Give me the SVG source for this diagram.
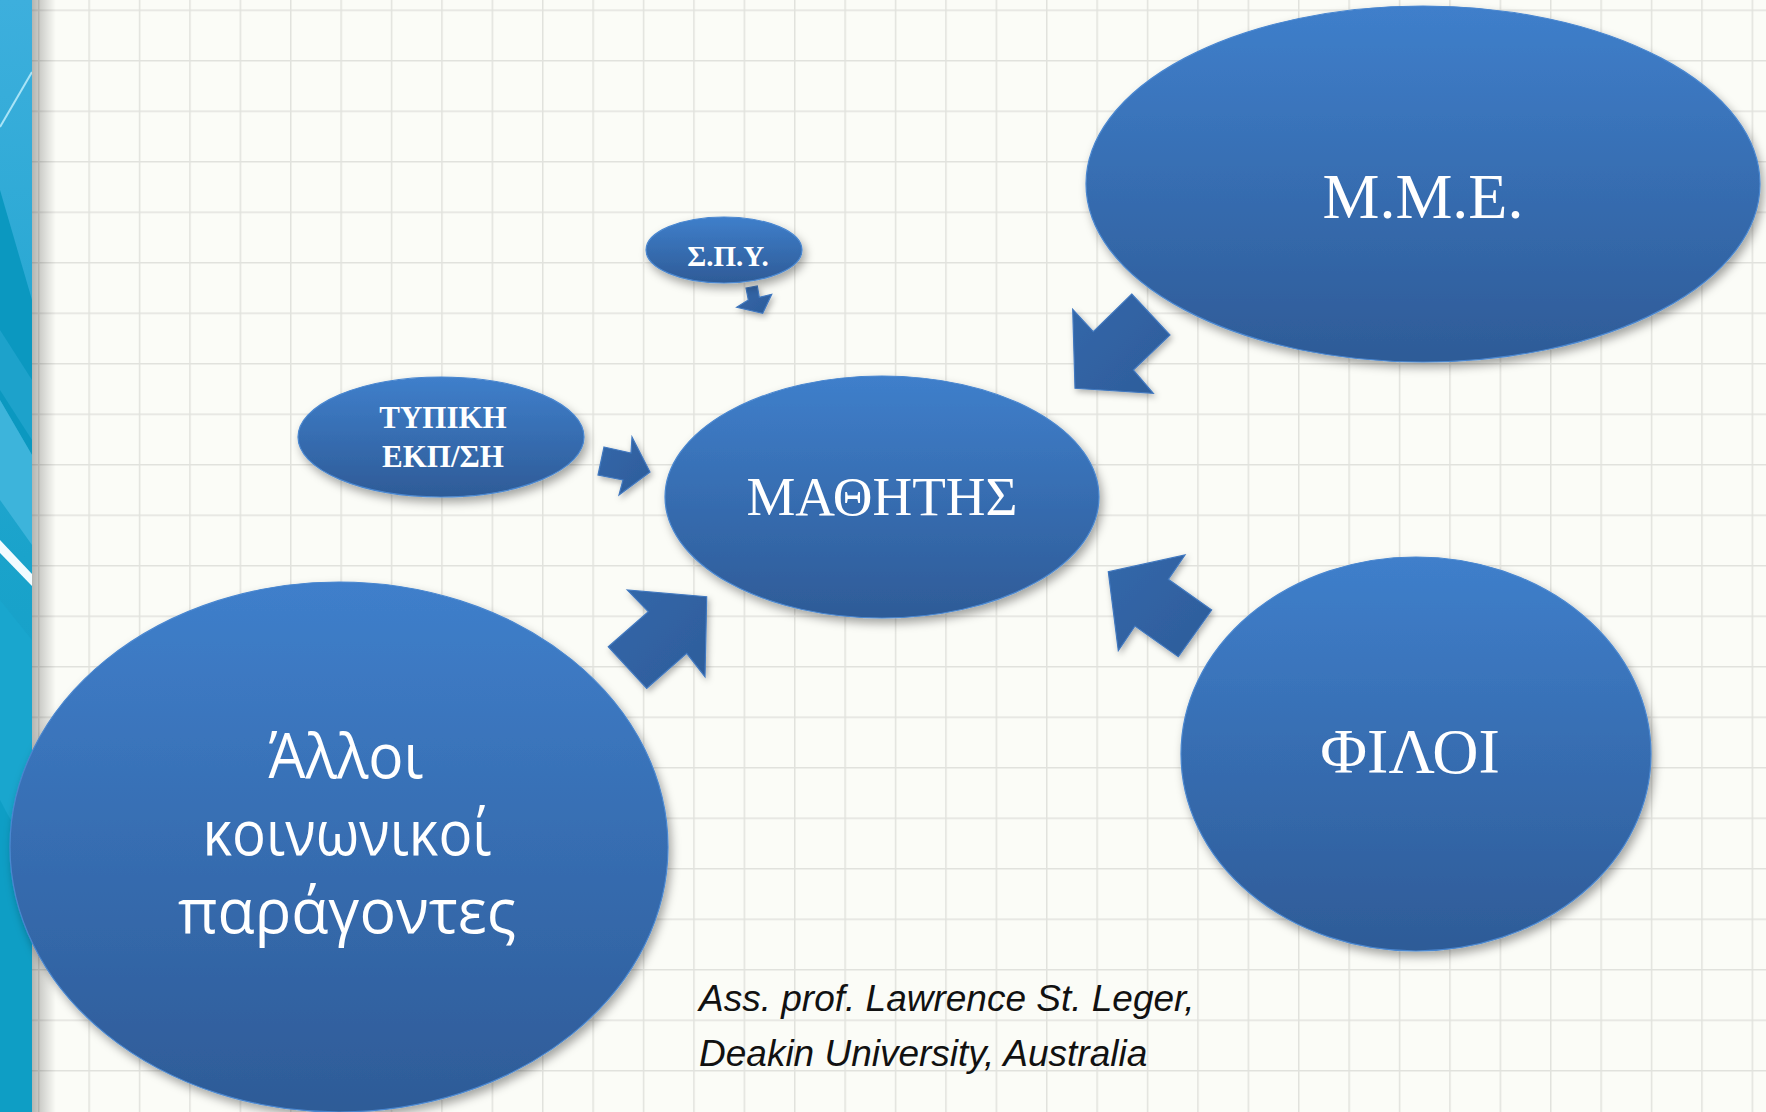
<svg xmlns="http://www.w3.org/2000/svg" width="1766" height="1112" viewBox="0 0 1766 1112">
<defs>
  <pattern id="grid" x="38" y="9.5" width="50.4" height="50.5" patternUnits="userSpaceOnUse">
    <path d="M0.75 0 V50.5 M0 0.75 H50.4" stroke="#E1E2DD" stroke-width="1.5" fill="none"/>
  </pattern>
  <linearGradient id="blue" x1="0" y1="0" x2="0" y2="1">
    <stop offset="0" stop-color="#3F7FCB"/>
    <stop offset="1" stop-color="#2E5B97"/>
  </linearGradient>
  <linearGradient id="arrowFill" x1="0" y1="0" x2="1" y2="1">
    <stop offset="0" stop-color="#3468AA"/>
    <stop offset="1" stop-color="#2D5C9A"/>
  </linearGradient>
  <linearGradient id="strip" x1="0" y1="0" x2="0" y2="1">
    <stop offset="0" stop-color="#3DAFDD"/>
    <stop offset="0.5" stop-color="#1AA3CB"/>
    <stop offset="1" stop-color="#089AC1"/>
  </linearGradient>
  <linearGradient id="stripShadow" x1="0" y1="0" x2="1" y2="0">
    <stop offset="0" stop-color="#000" stop-opacity="0.28"/>
    <stop offset="1" stop-color="#000" stop-opacity="0"/>
  </linearGradient>
  <clipPath id="stripClip"><rect x="0" y="0" width="32" height="1112"/></clipPath>
  <filter id="sh" x="-10%" y="-10%" width="130%" height="130%">
    <feDropShadow dx="3" dy="5" stdDeviation="5" flood-color="#000" flood-opacity="0.35"/>
  </filter>
  <filter id="ash" x="-20%" y="-20%" width="150%" height="150%">
    <feDropShadow dx="2" dy="3" stdDeviation="3" flood-color="#000" flood-opacity="0.3"/>
  </filter>
  <style>
    .node { fill: url(#blue); stroke: #4A87D0; stroke-width: 1.2; filter: url(#sh); }
    .arrow { fill: url(#arrowFill); stroke: #4178BF; stroke-width: 1.2; filter: url(#ash); }
    .serif { font-family: "Liberation Serif", "DejaVu Serif", serif; fill: #FFFFFF; text-anchor: middle; }
    .sans { font-family: "Open Sans", "Noto Sans", "DejaVu Sans", sans-serif; fill: #FFFFFF; text-anchor: middle; }
    .author { font-family: "Liberation Sans", Arial, sans-serif; font-style: italic; fill: #111111; font-size: 37px; }
  </style>
</defs>

<!-- background -->
<rect x="0" y="0" width="1766" height="1112" fill="#FBFCF7"/>
<rect x="32" y="0" width="1734" height="1112" fill="url(#grid)"/>

<!-- left decorative strip -->
<g id="strip">
  <rect x="0" y="0" width="32" height="1112" fill="url(#strip)"/>
  <g clip-path="url(#stripClip)">
    <polygon points="0,190 32,300 32,455 0,400" fill="#0B98C0"/>
    <polygon points="0,400 32,455 32,545 0,500" fill="#3DB4DB"/>
    <polygon points="0,330 32,380 32,440 0,390" fill="#2AA8D2" opacity="0.6"/>
    <polygon points="0,540 32,574 32,586 0,553" fill="#F2FBFF"/>
    <line x1="32" y1="72" x2="0" y2="127" stroke="#A9E4F7" stroke-width="2"/>
    <polygon points="0,600 32,640 32,1112 0,1112" fill="#19A6CE"/>
    <polygon points="0,800 32,860 32,1112 0,1112" fill="#0A9BC2" opacity="0.7"/>
  </g>
  <rect x="32" y="0" width="24" height="1112" fill="url(#stripShadow)"/>
</g>

<!-- connectors (block arrows) -->
<g id="connectors">
  <polygon class="arrow" points="604,447 631,453 632,437 650,472 619,495 623,480 598,475"/>
  <polygon class="arrow" points="746,288 757.3,286 759.3,297.3 771.7,294.3 762.7,313.3 736.7,307.3 748.3,300"/>
  <polygon class="arrow" points="1131.7,294 1170,335 1133.3,370 1153.3,393.3 1075,388.3 1072.7,309.3 1093.3,331.7"/>
  <polygon class="arrow" points="608.3,646.7 648.3,611.7 627.3,590 706.7,596.7 705,676.7 686.7,653.3 646.7,688.3"/>
  <polygon class="arrow" points="1211.7,610 1168.3,579.3 1185,555 1108.3,571.7 1118.3,650.7 1135,626 1178.3,656.7"/>
</g>

<!-- nodes -->
<g id="node-mme">
  <ellipse class="node" cx="1423" cy="184" rx="337" ry="178"/>
  <text class="serif" x="1423" y="218" font-size="64">M.M.E.</text>
</g>
<g id="node-spy">
  <ellipse class="node" cx="724" cy="250" rx="78" ry="33"/>
  <text class="serif" x="728" y="266" font-size="29" font-weight="bold">Σ.Π.Υ.</text>
</g>
<g id="node-typiki">
  <ellipse class="node" cx="441" cy="437" rx="143" ry="60"/>
  <text class="serif" x="443" y="428" font-size="31" font-weight="bold">ΤΥΠΙΚΗ</text>
  <text class="serif" x="443" y="467" font-size="31" font-weight="bold">ΕΚΠ/ΣΗ</text>
</g>
<g id="node-mathitis">
  <ellipse class="node" cx="882" cy="497" rx="217" ry="121"/>
  <text class="serif" x="882" y="515" font-size="55">ΜΑΘΗΤΗΣ</text>
</g>
<g id="node-filoi">
  <ellipse class="node" cx="1416" cy="754" rx="235" ry="197"/>
  <text class="serif" x="1410" y="773" font-size="64">ΦΙΛΟΙ</text>
</g>
<g id="node-alloi">
  <ellipse class="node" cx="339" cy="847" rx="329" ry="265"/>
  <text class="sans" x="346" y="778" font-size="62" textLength="155" lengthAdjust="spacingAndGlyphs">Άλλοι</text>
  <text class="sans" x="347" y="855" font-size="62" textLength="289" lengthAdjust="spacingAndGlyphs">κοινωνικοί</text>
  <text class="sans" x="347" y="933" font-size="62" textLength="338" lengthAdjust="spacingAndGlyphs">παράγοντες</text>
</g>

<!-- source note -->
<g id="note">
  <text class="author" x="699" y="1011">Ass. prof. Lawrence St. Leger,</text>
  <text class="author" x="699" y="1066">Deakin University, Australia</text>
</g>
</svg>
